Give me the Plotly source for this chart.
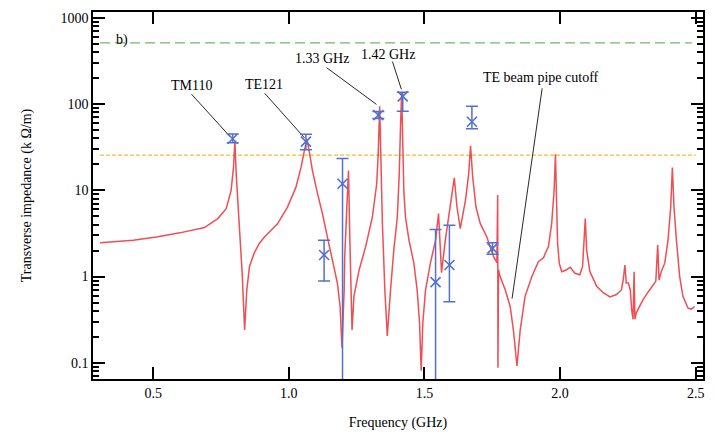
import plotly.graph_objects as go

# Simulated transverse impedance spectrum (GHz, kOhm/m)
sim_freq = [0.304, 0.426, 0.512, 0.598, 0.689, 0.738, 0.769, 0.787, 0.796, 0.801,
            0.806, 0.818, 0.828, 0.837, 0.845, 0.855, 0.873, 0.891, 0.910, 0.959,
            0.995, 1.026, 1.045, 1.057, 1.067, 1.075, 1.087, 1.106, 1.124, 1.142,
            1.161, 1.179, 1.189, 1.196, 1.204, 1.206, 1.214, 1.220, 1.225, 1.229,
            1.233, 1.240, 1.259, 1.283, 1.308, 1.324, 1.330, 1.335, 1.339, 1.345,
            1.354, 1.363, 1.375, 1.387, 1.400, 1.407, 1.412, 1.416, 1.420, 1.424,
            1.430, 1.443, 1.461, 1.473, 1.482, 1.488, 1.494, 1.504, 1.522, 1.541,
            1.552, 1.563, 1.577, 1.596, 1.610, 1.620, 1.632, 1.651, 1.663, 1.670,
            1.678, 1.690, 1.706, 1.730, 1.755, 1.767, 1.770, 1.771, 1.773, 1.779,
            1.798, 1.816, 1.828, 1.841, 1.853, 1.871, 1.896, 1.920, 1.939, 1.945,
            1.957, 1.969, 1.978, 1.983, 1.986, 1.989, 1.991, 1.997, 2.006, 2.022,
            2.037, 2.055, 2.073, 2.083, 2.089, 2.093, 2.098, 2.110, 2.135, 2.159,
            2.184, 2.208, 2.226, 2.233, 2.239, 2.244, 2.252, 2.259, 2.264, 2.269,
            2.273, 2.276, 2.281, 2.306, 2.330, 2.353, 2.360, 2.365, 2.373, 2.386,
            2.398, 2.408, 2.414, 2.420, 2.429, 2.441, 2.453, 2.472, 2.484, 2.496]
sim_z = [2.46, 2.64, 2.88, 3.21, 3.70, 4.70, 6.12, 9.9, 18.4, 37.3,
         15.4, 4.1, 1.09, 0.24, 0.70, 1.31, 1.90, 2.42, 2.88, 4.11,
         6.38, 10.8, 18.4, 28.6, 39.0, 28.6, 16.9, 9.1, 5.36, 2.89,
         1.56, 0.84, 0.45, 0.15, 0.70, 1.70, 6.4, 16.9, 2.64, 0.59,
         0.24, 0.59, 1.19, 2.21, 4.9, 11.9, 28.6, 94.0, 24.0, 4.1,
         0.70, 0.205, 0.70, 2.03, 4.9, 15.4, 58.0, 135.0, 37.0, 9.9,
         4.9, 2.64, 1.43, 0.70, 0.29, 0.081, 0.29, 0.70, 1.43, 2.64,
         5.36, 1.11, 2.64, 6.4, 13.9, 6.4, 3.6, 7.6, 15.4, 32.7,
         14.1, 6.4, 4.1, 2.88, 1.70, 1.45, 8.8, 0.088, 1.2, 1.0,
         0.70, 0.45, 0.24, 0.092, 0.24, 0.59, 1.0, 1.49, 1.65, 1.85,
         2.21, 4.1, 9.9, 26.2, 9.9, 3.0, 2.42, 1.43, 1.14, 1.19,
         1.28, 1.09, 1.05, 1.31, 2.64, 4.7, 2.03, 1.14, 0.77, 0.65,
         0.58, 0.62, 0.70, 0.92, 1.36, 0.84, 0.84, 0.70, 0.41, 0.32,
         1.14, 0.32, 0.38, 0.54, 0.70, 0.88, 2.32, 0.91, 1.14, 1.43,
         2.64, 6.4, 18.4, 6.4, 2.64, 1.0, 0.59, 0.43, 0.42, 0.45]

# Measured modes with uncertainty bounds
meas_freq = [0.793, 1.063, 1.130, 1.198, 1.33, 1.42, 1.541, 1.592, 1.675, 1.751]
meas_z = [39.6, 36.6, 1.78, 11.9, 74.3, 122.7, 0.863, 1.36, 62.2, 2.12]
meas_hi = [45.0, 44.6, 2.64, 23.3, 82.0, 137.0, 3.51, 3.94, 94.0, 2.46]
meas_lo = [35.6, 29.4, 0.89, 0.01, 68.0, 82.6, 0.01, 0.51, 51.6, 1.81]

# Threshold levels
limit_freq_green = [0.304, 2.486]
limit_green = [510, 510]
limit_freq_orange = [0.304, 2.50]
limit_orange = [25.5, 25.5]

# Mode labels: (text, text x, text log10 y, leader start, leader end)
labels = [
    ("TM110", 0.641, 2.215, (0.641, 130), (0.783, 42)),
    ("TE121", 0.907, 2.227, (0.911, 133), (1.058, 40.4)),
    ("1.33 GHz", 1.122, 2.526, (1.139, 264), (1.323, 99)),
    ("1.42 GHz", 1.367, 2.577, (1.382, 310), (1.415, 148)),
    ("TE beam pipe cutoff", 1.930, 2.307, (1.934, 152), (1.823, 0.555)),
]

x_ticks = [0.5, 1.0, 1.5, 2.0, 2.5]
x_ticktext = ["0.5", "1.0", "1.5", "2.0", "2.5"]
y_ticks = [0.1, 1, 10, 100, 1000]
y_ticktext = ["0.1", "1", "10", "100", "1000"]

FONT = "Liberation Serif"
RED = "rgb(236,60,66)"
BLUE = "rgb(84,112,206)"

fig = go.Figure()

fig.add_trace(go.Scatter(x=limit_freq_green, y=limit_green, mode="lines",
                         line=dict(color="rgb(100,190,100)", width=1.3, dash="10px,5px"),
                         hoverinfo="skip", showlegend=False))
fig.add_trace(go.Scatter(x=limit_freq_orange, y=limit_orange, mode="lines",
                         line=dict(color="rgb(250,188,45)", width=1.3, dash="4px,2px"),
                         hoverinfo="skip", showlegend=False))

fig.add_trace(go.Scatter(x=sim_freq, y=sim_z, mode="lines",
                         line=dict(color=RED, width=1.5),
                         opacity=0.9, showlegend=False))

for text, tx, ty, (x0, y0), (x1, y1) in labels:
    fig.add_trace(go.Scatter(x=[x0, x1], y=[y0, y1], mode="lines",
                             line=dict(color="rgb(40,40,40)", width=1),
                             hoverinfo="skip", showlegend=False))
    fig.add_annotation(x=tx, y=ty, xref="x", yref="y", text=text, showarrow=False,
                       font=dict(family=FONT, size=14, color="black"))

err_plus = [h - v for h, v in zip(meas_hi, meas_z)]
err_minus = [v - l for v, l in zip(meas_z, meas_lo)]
fig.add_trace(go.Scatter(
    x=meas_freq, y=meas_z, mode="markers",
    marker=dict(symbol="x-thin", size=10, line=dict(color=BLUE, width=1.6)),
    error_y=dict(type="data", array=err_plus, arrayminus=err_minus,
                 color=BLUE, thickness=1.5, width=6),
    showlegend=False))

fig.add_annotation(x=0.384, y=2.744, xref="x", yref="y", text="b)", showarrow=False,
                   font=dict(family=FONT, size=14, color="black"))

axis_common = dict(showline=True, linecolor="black", linewidth=1.5, mirror="ticks",
                   ticks="inside", ticklen=12, tickwidth=1.5, tickcolor="black",
                   showgrid=False, zeroline=False,
                   tickfont=dict(family=FONT, size=14, color="black"))

fig.update_xaxes(range=[0.278, 2.527], tickvals=x_ticks, ticktext=x_ticktext,
                 title=dict(text="Frequency (GHz)", standoff=18,
                            font=dict(family=FONT, size=14, color="black")),
                 **axis_common)
fig.update_yaxes(type="log", range=[-1.187, 3.066], tickvals=y_ticks, ticktext=y_ticktext,
                 minor=dict(ticks="inside", ticklen=6, tickwidth=1.5, tickcolor="black",
                            dtick="D1", showgrid=False),
                 title=dict(text="Transverse impedance (k \u03a9/m)", standoff=26,
                            font=dict(family=FONT, size=14, color="black")),
                 **axis_common)

fig.update_layout(width=715, height=438, margin=dict(l=93, r=11, t=10, b=58),
                  paper_bgcolor="white", plot_bgcolor="white",
                  font=dict(family=FONT, size=14, color="black"))

fig.write_html("out.html")
